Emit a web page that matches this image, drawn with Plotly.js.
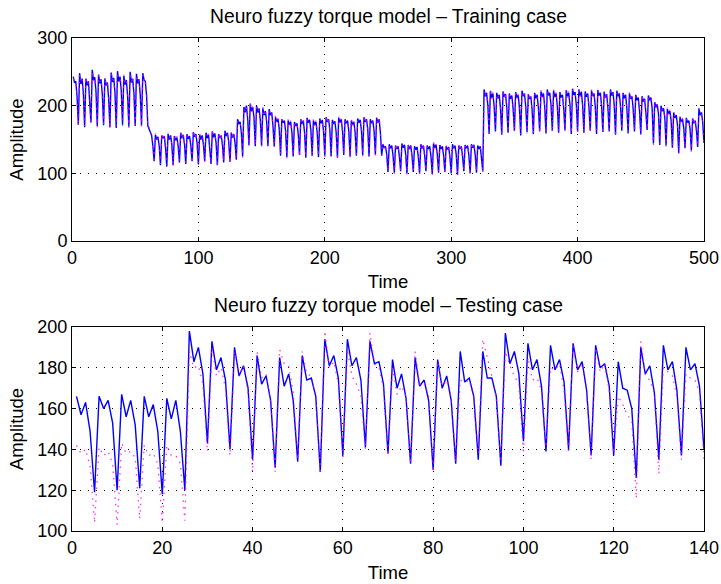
<!DOCTYPE html>
<html>
<head>
<meta charset="utf-8">
<script src="https://cdn.plot.ly/plotly-3.0.1.min.js"></script>
<style>
  html, body { margin: 0; padding: 0; background: #fff; }
  #chart { width: 721px; height: 584px; }
</style>
</head>
<body>
<div id="chart"></div>
<script>
// Training case: neuro-fuzzy model output (blue) and measured torque (magenta), 500 samples
const trainModel = [
  243,234,236,214,172, 248,232,240,218,168, 240,230,236,212,175, 253,238,242,220,170,
  246,233,239,216,171, 240,230,234,210,168, 249,235,241,219,167, 251,236,243,221,172,
  244,231,238,214,169, 250,234,240,218,170, 247,233,239,216,171, 248,238,236,215,170,
  165,158,156,140,118, 157,150,154,140,112, 156,152,155,138,110, 158,150,156,142,112,
  155,149,153,140,116, 160,152,157,143,114, 158,151,155,141,118, 161,154,158,144,113,
  157,150,156,142,118, 160,152,157,140,114, 162,154,159,145,112, 158,152,156,143,116,
  163,155,160,146,117, 160,153,158,145,120, 180,174,176,160,125, 198,190,200,180,142,
  203,192,198,182,140, 200,190,196,178,141, 196,186,192,176,140, 195,186,190,170,140,
  183,176,180,165,126, 180,175,178,162,124, 178,172,176,160,125, 176,170,174,158,127,
  180,173,178,160,123, 182,175,179,163,126, 178,172,176,160,124, 181,174,179,162,126,
  183,176,180,164,125, 179,173,177,160,123, 182,175,180,163,127, 180,174,178,162,125,
  178,172,176,160,126, 181,175,179,163,127, 183,176,180,165,125, 180,174,178,162,128,
  182,175,180,160,126, 143,138,140,128,102, 143,137,141,126,101, 141,136,140,125,103,
  144,138,142,128,100, 142,136,141,126,102, 140,135,139,124,100, 143,137,141,127,103,
  141,136,140,125,99,  144,138,142,128,101, 142,136,140,126,102, 140,135,139,124,100,
  143,137,141,127,98,  141,136,140,125,103, 142,137,141,126,100, 143,138,142,127,101,
  141,136,140,125,103, 224,214,219,200,158, 222,212,218,198,162, 219,211,216,196,157,
  221,213,217,197,160, 218,210,215,195,163, 220,212,216,196,156, 222,214,218,198,161,
  217,210,214,194,158, 219,211,216,196,162, 221,213,218,198,159, 224,215,219,200,163,
  222,213,218,198,160, 220,212,216,196,164, 223,214,219,200,158, 225,216,220,201,162,
  224,215,220,200,160, 221,213,218,197,163, 222,214,218,198,158, 223,215,219,199,161,
  220,212,217,196,162, 224,215,220,200,157, 222,214,218,198,163, 219,211,216,195,159,
  218,210,214,194,162, 216,208,212,192,158, 214,206,210,190,164, 215,208,212,195,144,
  205,198,202,188,142, 200,192,196,182,141, 195,188,192,178,138, 190,182,186,172,130,
  183,176,180,166,137, 182,175,178,165,134, 181,174,178,164,139, 196,186,190,175,145
];
const trainActual = [
  240,236,234,212,170, 246,234,238,215,170, 242,231,235,214,173, 250,237,240,222,168,
  245,235,238,214,173, 242,229,236,212,166, 247,236,240,217,169, 249,235,241,223,170,
  246,232,236,216,167, 248,235,242,216,172, 245,234,237,218,169, 246,236,238,213,168,
  168,160,158,142,116, 159,151,152,142,114, 158,150,157,136,112, 160,152,154,144,110,
  157,150,155,138,118, 162,150,159,141,112, 156,153,153,143,116, 163,152,160,142,115,
  159,152,154,144,116, 158,154,159,138,116, 164,152,157,147,110, 160,150,158,141,118,
  161,157,158,148,115, 162,151,160,143,122, 178,176,174,162,123, 196,192,198,182,140,
  205,190,200,180,142, 198,192,194,180,139, 198,184,194,174,142, 193,188,188,172,138,
  185,174,182,163,128, 178,177,176,164,122, 180,170,178,158,127, 174,172,172,160,125,
  182,171,180,158,125, 180,177,177,165,124, 180,170,178,158,126, 179,176,177,164,124,
  185,174,182,162,127, 177,175,175,162,121, 184,173,182,161,129, 178,176,176,164,123,
  180,170,178,158,128, 179,177,177,165,125, 185,174,182,163,127, 178,176,176,164,126,
  184,173,182,158,128, 145,136,142,126,104, 141,139,139,128,99,  143,134,142,123,105,
  142,140,140,130,98,  144,134,143,124,104, 138,137,137,126,98,  145,135,143,125,105,
  139,138,138,127,97,  146,136,144,126,103, 140,138,138,128,100, 142,133,141,122,102,
  141,139,139,129,96,  143,134,142,123,105, 140,139,139,128,98,  145,136,144,125,103,
  139,138,138,127,101, 222,216,217,202,156, 224,210,220,196,164, 217,213,214,198,155,
  223,211,219,195,162, 216,212,213,197,161, 222,210,218,194,158, 220,216,216,200,159,
  219,208,216,192,160, 217,213,214,198,160, 223,211,220,196,161, 222,217,217,202,161,
  224,211,220,196,162, 218,214,214,198,162, 225,212,221,198,160, 223,218,218,203,160,
  226,213,222,198,162, 219,215,216,199,161, 224,212,220,196,160, 221,217,217,201,159,
  222,210,219,194,164, 222,217,218,202,155, 224,212,220,196,165, 217,213,214,197,157,
  220,208,216,192,164, 214,210,210,194,156, 216,204,212,188,166, 213,210,210,197,142,
  207,196,204,186,144, 198,194,194,184,139, 197,186,194,176,140, 188,184,184,174,128,
  185,174,182,164,139, 180,177,176,167,132, 183,172,180,162,141, 194,188,188,177,143
];

// Testing case: 140 samples
const testModel = [
  166,157,163,149,119, 166,160,164,153,120, 167,156,164,152,121, 166,156,162,149,118,
  165,155,164,149,120, 198,183,190,177,143, 193,179,185,174,140, 190,176,181,170,135,
  186,172,176,164,131, 185,171,177,164,134, 186,174,175,166,129, 194,181,186,175,137,
  194,181,185,174,141, 193,182,183,172,138, 184,170,177,165,133, 185,171,174,164,130,
  184,170,176,164,133, 188,173,175,166,135, 188,175,175,166,132, 197,182,188,177,144,
  192,179,184,171,139, 191,179,184,173,140, 192,179,183,169,137, 191,180,182,171,137,
  183,170,169,160,126, 190,177,181,168,135, 191,179,183,169,137, 190,179,182,171,140
];
const testActual = [
  142,138,140,132,104, 141,137,139,133,103, 143,138,139,136,106, 142,137,138,133,104,
  142,137,137,133,105, 188,180,181,172,139, 190,176,180,170,137, 188,176,181,168,129,
  188,175,177,163,129, 189,182,181,168,135, 188,177,176,166,128, 198,180,183,172,135,
  189,176,172,166,140, 197,182,180,170,137, 180,167,171,166,133, 188,172,173,166,129,
  183,171,174,165,134, 174,173,174,165,138, 194,185,176,165,134, 188,181,176,172,138,
  185,174,175,169,141, 180,179,182,169,138, 192,178,182,168,135, 190,178,182,169,138,
  166,162,157,154,116, 193,176,174,168,128, 180,178,176,166,135, 177,175,174,168,135
];

const trainTicksX = [0, 100, 200, 300, 400, 500];
const trainTicksY = [0, 100, 200, 300];
const testTicksX = [0, 20, 40, 60, 80, 100, 120, 140];
const testTicksY = [100, 120, 140, 160, 180, 200];

const trainTime = trainModel.map((_, i) => i + 1);
const testTime = testModel.map((_, i) => i + 1);

const FONT = 'Liberation Sans, Arial, Helvetica, sans-serif';
const modelLine = { color: '#0000ff', width: 1.4 };
const actualLine = { color: '#ff00ff', width: 1.3, dash: '1.5px,5px' };

const traces = [
  { x: trainTime, y: trainModel, xaxis: 'x', yaxis: 'y', mode: 'lines', line: modelLine, hoverinfo: 'skip' },
  { x: trainTime, y: trainActual, xaxis: 'x', yaxis: 'y', mode: 'lines', line: actualLine, opacity: 0.8, hoverinfo: 'skip' },
  { x: testTime, y: testModel, xaxis: 'x2', yaxis: 'y2', mode: 'lines', line: modelLine, hoverinfo: 'skip' },
  { x: testTime, y: testActual, xaxis: 'x2', yaxis: 'y2', mode: 'lines', line: actualLine, opacity: 0.8, hoverinfo: 'skip' }
];

function axisStyle(extra) {
  return Object.assign({
    showline: true, linecolor: '#000', linewidth: 1, mirror: 'ticks',
    ticks: 'inside', ticklen: 4, tickcolor: '#000', tickwidth: 1,
    showgrid: true, gridcolor: '#000', gridwidth: 1, griddash: '1px,7px',
    zeroline: false, fixedrange: true,
    tickfont: { family: FONT, size: 18, color: '#000' }
  }, extra);
}

const layout = {
  width: 721, height: 584,
  margin: { l: 72, r: 17, t: 38, b: 53 },
  paper_bgcolor: '#fff', plot_bgcolor: '#fff',
  showlegend: false,
  font: { family: FONT, size: 18, color: '#000' },
  xaxis: axisStyle({ domain: [0, 1], range: [0, 500], tickmode: 'array', tickvals: trainTicksX, anchor: 'y',
    title: { text: 'Time', font: { family: FONT, size: 18.5 }, standoff: 8 } }),
  yaxis: axisStyle({ domain: [0.5882, 1], range: [0, 300], tickmode: 'array', tickvals: trainTicksY, anchor: 'x',
    title: { text: 'Amplitude', font: { family: FONT, size: 18.5 }, standoff: 8 } }),
  xaxis2: axisStyle({ domain: [0, 1], range: [0, 140], tickmode: 'array', tickvals: testTicksX, anchor: 'y2',
    title: { text: 'Time', font: { family: FONT, size: 18.5 }, standoff: 9 } }),
  yaxis2: axisStyle({ domain: [0, 0.4138], range: [100, 200], tickmode: 'array', tickvals: testTicksY, anchor: 'x2',
    title: { text: 'Amplitude', font: { family: FONT, size: 18.5 }, standoff: 8 } }),
  annotations: [
    { text: 'Neuro fuzzy torque model \u2013 Training case', xref: 'paper', yref: 'paper',
      x: 0.5, y: 1.0446, xanchor: 'center', yanchor: 'middle', showarrow: false,
      font: { family: FONT, size: 19.3, color: '#000' } },
    { text: 'Neuro fuzzy torque model \u2013 Testing case', xref: 'paper', yref: 'paper',
      x: 0.5, y: 0.4574, xanchor: 'center', yanchor: 'middle', showarrow: false,
      font: { family: FONT, size: 19.3, color: '#000' } }
  ]
};

Plotly.newPlot('chart', traces, layout, { displayModeBar: false, staticPlot: true });
</script>
</body>
</html>
